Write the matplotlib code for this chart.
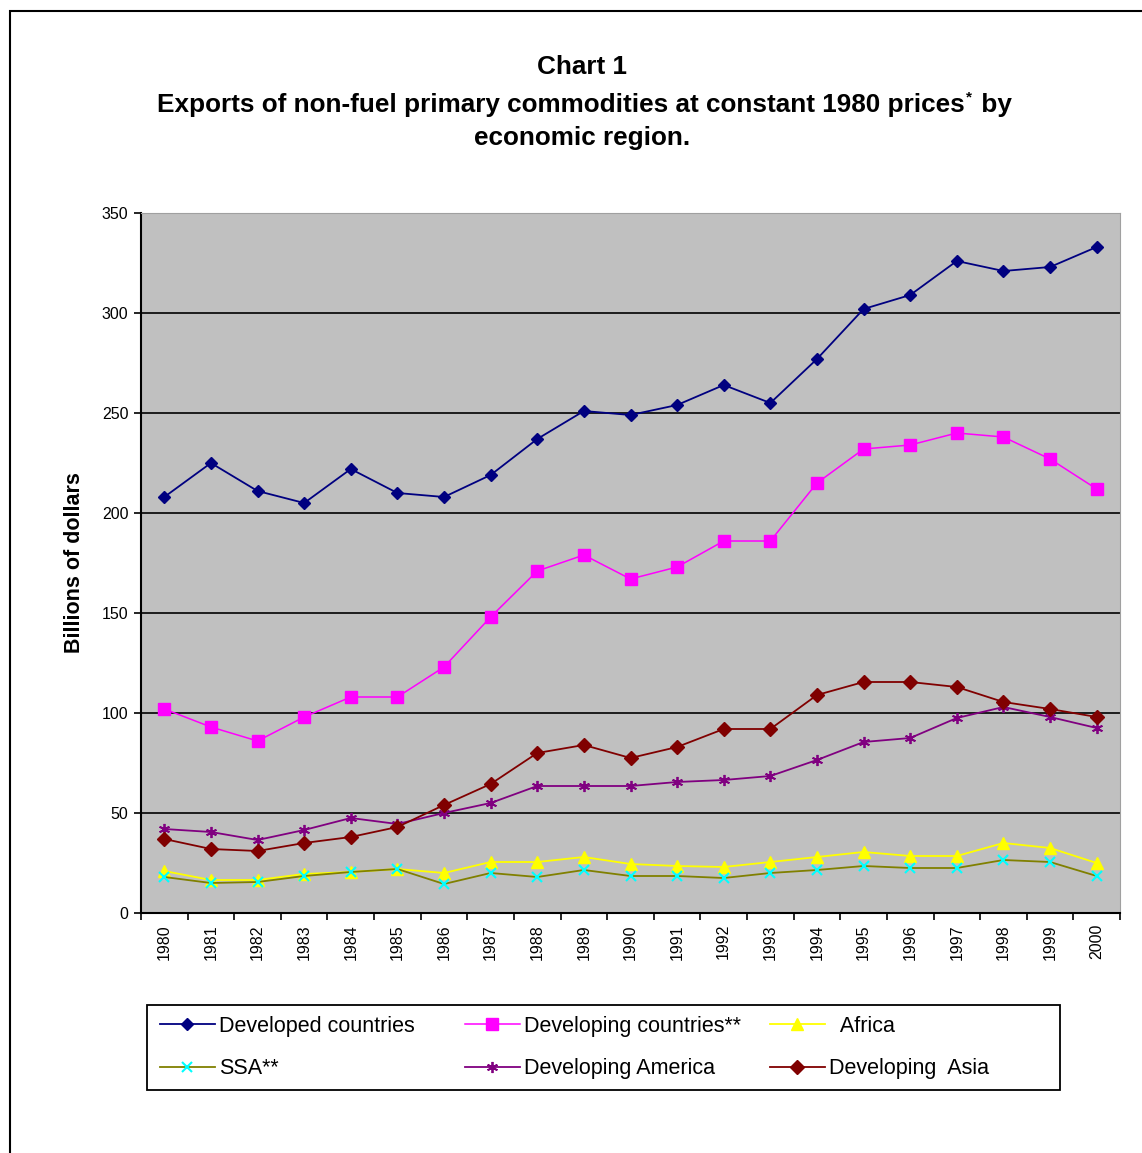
import matplotlib
matplotlib.use("Agg")
import matplotlib.pyplot as plt
from matplotlib.patches import Rectangle

W, H = 1142, 1153

years = [str(y) for y in range(1980, 2001)]

developed = [208, 225, 211, 205, 222, 210, 208, 219, 237, 251, 249,
             254, 264, 255, 277, 302, 309, 326, 321, 323, 333]
developing = [102, 93, 86, 98, 108, 108, 123, 148, 171, 179, 167,
              173, 186, 186, 215, 232, 234, 240, 238, 227, 212]
africa = [21, 16.5, 16.5, 19.5, 20.5, 22, 20, 25.5, 25.5, 28, 24.5,
          23.5, 23, 25.5, 28, 30.5, 28.5, 28.5, 35, 32.5, 25]
ssa = [18, 15, 15.5, 18.5, 20.5, 22, 14.5, 20, 18, 21.5, 18.5,
       18.5, 17.5, 20, 21.5, 23.5, 22.5, 22.5, 26.5, 25.5, 18.5]
dev_america = [42, 40.5, 36.5, 41.5, 47.5, 44.5, 50, 55, 63.5, 63.5, 63.5,
               65.5, 66.5, 68.5, 76.5, 85.5, 87.5, 97.5, 103, 98, 92.5]
dev_asia = [37, 32, 31, 35, 38, 43, 54, 64.5, 80, 84, 77.5,
            83, 92, 92, 109, 115.5, 115.5, 113, 105.5, 102, 98]

y_ticks = [0, 50, 100, 150, 200, 250, 300, 350]

plt.rcParams['font.family'] = ['Liberation Sans', 'DejaVu Sans']


def fx(x):
    return x / W


def fy(y):
    return 1 - y / H


fig = plt.figure(figsize=(W / 100, H / 100), dpi=100, facecolor='white')

# outer frame of the chart sheet
fig.patches.append(Rectangle((fx(10), fy(1160)), fx(1150) - fx(10), fy(11) - fy(1160),
                             transform=fig.transFigure, fill=False,
                             edgecolor='black', linewidth=1.5))

ax = fig.add_axes([fx(141), fy(913), (1120 - 141) / W, (913 - 213) / H])
ax.set_facecolor('#C0C0C0')

idx = list(range(len(years)))

series = [
    (developed, 'Developed countries', dict(color='#000080', marker='D', ms=6.5,
                                            mfc='#000080', mec='#000080')),
    (developing, 'Developing countries**', dict(color='#FF00FF', marker='s', ms=8,
                                                mfc='#FF00FF', mec='#FF00FF', lw=1.1)),
    (africa, '  Africa', dict(color='#FFFF00', marker='^', ms=9,
                              mfc='#FFFF00', mec='#FFFF00')),
    (ssa, 'SSA**', dict(color='#808000', marker='x', ms=7,
                        mfc='#00FFFF', mec='#00FFFF', mew=1.5)),
    (dev_america, 'Developing America', dict(color='#800080', marker=(6, 2, 0), ms=8,
                                             mfc='#800080', mec='#800080', mew=1.3)),
    (dev_asia, 'Developing  Asia', dict(color='#800000', marker='D', ms=7,
                                        mfc='#800000', mec='#800000')),
]

handles = {}
draw_order = [3, 2, 4, 5, 1, 0]
for i in draw_order:
    vals, label, style = series[i]
    style = dict(style)
    lw = style.pop('lw', 1.3)
    ln, = ax.plot(idx, vals, lw=lw, label=label, zorder=3 + i * 0.1, **style)
    handles[i] = ln

ax.set_xlim(-0.5, len(years) - 0.5)
ax.set_ylim(0, 350)
ax.set_yticks(y_ticks)
ax.set_yticklabels([str(v) for v in y_ticks], fontsize=11.5)
ax.yaxis.grid(True, color='black', linewidth=1.2)
ax.set_axisbelow(True)

# category axis: tick marks between categories, labels at category centres
ax.set_xticks([i - 0.5 for i in range(len(years) + 1)])
ax.set_xticklabels([])
ax.set_xticks(idx, minor=True)
ax.set_xticklabels(years, minor=True, rotation=90, fontsize=11.5)
ax.tick_params(axis='x', which='major', direction='out', length=5, width=1.2, color='black')
ax.tick_params(axis='x', which='minor', length=0, pad=8)
ax.tick_params(axis='y', direction='out', length=5, width=1.2, pad=4)

for s in ['left', 'bottom']:
    ax.spines[s].set_color('black')
    ax.spines[s].set_linewidth(1.5)
for s in ['top', 'right']:
    ax.spines[s].set_color('#A0A0A0')
    ax.spines[s].set_linewidth(0.8)

ax.set_ylabel('Billions of dollars', fontsize=15.5, fontweight='bold', labelpad=12)

# titles
tfs = 18.8
fig.text(fx(582), fy(74), 'Chart 1', ha='center', va='baseline',
         fontsize=tfs, fontweight='bold')
t2 = fig.text(fx(157), fy(112), 'Exports of non-fuel primary commodities at constant 1980 prices',
              ha='left', va='baseline', fontsize=tfs, fontweight='bold')
fig.canvas.draw()
bb = t2.get_window_extent()
fig.text(bb.x1 / W + 1 / W, bb.y1 / H + 3 / H, '*', fontsize=11, fontweight='bold',
         ha='left', va='top')
fig.text(bb.x1 / W + 9 / W, fy(112), ' by', ha='left', va='baseline',
         fontsize=tfs, fontweight='bold')
fig.text(fx(582), fy(145), 'economic region.', ha='center', va='baseline',
         fontsize=tfs, fontweight='bold')

# legend: three fixed-width columns inside one frame
fig.patches.append(Rectangle((fx(147), fy(1090)), (1060 - 147) / W, (1090 - 1005) / H,
                             transform=fig.transFigure, fill=False,
                             edgecolor='black', linewidth=1.3))
col_x = [160, 465, 770]
col_items = [[0, 3], [1, 4], [2, 5]]
for cx, items in zip(col_x, col_items):
    fig.legend([handles[i] for i in items], [series[i][1] for i in items],
               loc='upper left', bbox_to_anchor=(fx(cx), fy(1016)),
               frameon=False, fontsize=15.5, handlelength=2.55,
               handletextpad=0.2, labelspacing=0.98, borderpad=0.0,
               borderaxespad=0)

fig.savefig('out.png', dpi=100, facecolor='white')
